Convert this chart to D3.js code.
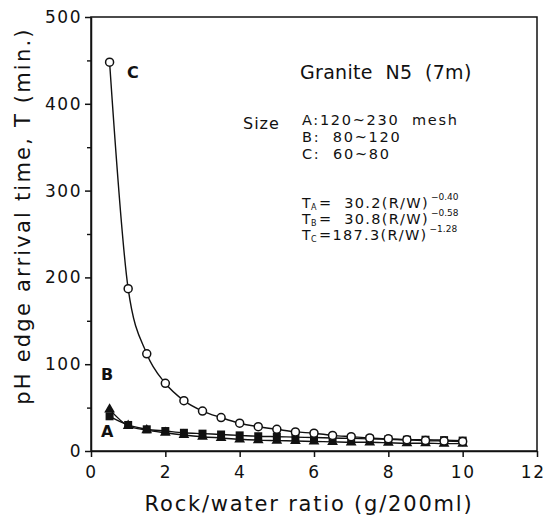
<!DOCTYPE html>
<html>
<head>
<meta charset="utf-8">
<script src="https://cdn.jsdelivr.net/npm/d3@7"></script>
<style>
  body { margin: 0; background: #fff; }
  svg { display: block; }
  text { font-family: "DejaVu Sans", "Liberation Sans", sans-serif; fill: #111; }
</style>
</head>
<body>
<svg id="chart" width="545" height="517"></svg>
<script>
// rock/water ratio (g/200ml)
const ratios = [0.5, 1, 1.5, 2, 2.5, 3, 3.5, 4, 4.5, 5, 5.5, 6, 6.5, 7, 7.5, 8, 8.5, 9, 9.5, 10];
// pH edge arrival time T (min.)
const seriesA = [40, 30, 25, 23, 21, 20, 19, 18, 17, 16.5, 16, 15.5, 15, 14.5, 14, 13.5, 13, 13, 12.5, 12];
const seriesB = [48, 29, 24, 21, 18.5, 16.5, 15, 13.5, 12.5, 12, 11.5, 11, 10.5, 10, 10, 9.5, 9, 9, 8.5, 8.5];
const seriesC = [448, 187, 112, 78, 58, 46, 38.5, 32, 28, 25, 22, 20.5, 18, 16.5, 15, 14, 13, 12, 11.5, 11];
const xTicks = [0, 2, 4, 6, 8, 10, 12];
const yTicks = [0, 100, 200, 300, 400, 500];
const legendLines = ['A:120~230  mesh', 'B:  80~120', 'C:  60~80'];
const equations = [
  { sub: 'A', text: '=  30.2(R/W)', exp: '\u22120.40' },
  { sub: 'B', text: '=  30.8(R/W)', exp: '\u22120.58' },
  { sub: 'C', text: '=187.3(R/W)', exp: '\u22121.28' }
];

const svg = d3.select('#chart');
const margin = { top: 17, right: 8, bottom: 66, left: 91 };
const width = 545, height = 517;

const x = d3.scaleLinear().domain([0, 12]).range([margin.left, width - margin.right]);
const y = d3.scaleLinear().domain([0, 500]).range([height - margin.bottom, margin.top]);

// frame
svg.append('rect')
  .attr('x', margin.left).attr('y', margin.top)
  .attr('width', width - margin.left - margin.right)
  .attr('height', height - margin.top - margin.bottom)
  .attr('fill', 'none').attr('stroke', '#111').attr('stroke-width', 1.5);

const xAxisG = svg.append('g')
  .attr('transform', `translate(0,${height - margin.bottom})`)
  .call(d3.axisBottom(x).tickValues(xTicks).tickSize(6).tickSizeOuter(0).tickFormat(d3.format('d')));

const yAxisG = svg.append('g')
  .attr('transform', `translate(${margin.left},0)`)
  .call(d3.axisLeft(y).tickValues(yTicks).tickSize(6).tickSizeOuter(0).tickFormat(d3.format('d')));

// minor y ticks
svg.append('g')
  .attr('transform', `translate(${margin.left},0)`)
  .call(d3.axisLeft(y).tickValues(d3.range(50, 500, 100)).tickSize(4).tickSizeOuter(0).tickFormat(''))
  .call(g => g.select('.domain').remove())
  .selectAll('.tick line').attr('stroke', '#111').attr('stroke-width', 1.4);

[xAxisG, yAxisG].forEach(g => {
  g.select('.domain').attr('stroke', '#111').attr('stroke-width', 1.5);
  g.selectAll('.tick line').attr('stroke', '#111').attr('stroke-width', 1.5);
  g.selectAll('.tick text').style('font-size', '17px').style('letter-spacing', '1.5px').attr('fill', '#111');
});
xAxisG.selectAll('.tick text').attr('dy', '0.71em').attr('y', 15);
xAxisG.selectAll('.tick').filter(d => d === 12).select('text')
  .attr('text-anchor', 'end').attr('x', 8);
yAxisG.selectAll('.tick text').attr('x', -9);

// axis titles
svg.append('text')
  .attr('x', 309).attr('y', 511)
  .attr('text-anchor', 'middle')
  .style('font-size', '21px').style('letter-spacing', '1.8px')
  .text('Rock/water ratio (g/200ml)');

svg.append('text')
  .attr('transform', 'translate(30,216) rotate(-90)')
  .attr('text-anchor', 'middle')
  .style('font-size', '21px').style('letter-spacing', '2.2px')
  .text('pH edge arrival time, T (min.)');

// series
const line = d3.line()
  .x(d => x(d[0]))
  .y(d => y(d[1]))
  .curve(d3.curveMonotoneX);

const zip = vals => ratios.map((r, i) => [r, vals[i]]);

[seriesA, seriesB, seriesC].forEach(vals => {
  svg.append('path')
    .datum(zip(vals))
    .attr('d', line)
    .attr('fill', 'none').attr('stroke', '#111').attr('stroke-width', 1.4);
});

// markers
svg.append('g').selectAll('rect')
  .data(zip(seriesA))
  .join('rect')
  .attr('x', d => x(d[0]) - 4).attr('y', d => y(d[1]) - 4)
  .attr('width', 8).attr('height', 8)
  .attr('fill', '#111');

svg.append('g').selectAll('path')
  .data(zip(seriesB))
  .join('path')
  .attr('transform', d => `translate(${x(d[0])},${y(d[1])})`)
  .attr('d', d3.symbol(d3.symbolTriangle, 50))
  .attr('fill', '#111');

svg.append('g').selectAll('circle')
  .data(zip(seriesC))
  .join('circle')
  .attr('cx', d => x(d[0])).attr('cy', d => y(d[1]))
  .attr('r', 4)
  .attr('fill', '#fff').attr('stroke', '#111').attr('stroke-width', 1.5);

// series labels
const labelStyle = sel => sel.style('font-size', '16px').style('font-weight', 'bold');
svg.append('text').attr('x', 127).attr('y', 78).text('C').call(labelStyle);
svg.append('text').attr('x', 101).attr('y', 380).text('B').call(labelStyle);
svg.append('text').attr('x', 101).attr('y', 437).text('A').call(labelStyle);

// annotations
svg.append('text').attr('x', 300).attr('y', 79)
  .style('font-size', '19px').style('letter-spacing', '0.3px')
  .attr('xml:space', 'preserve')
  .text('Granite  N5  (7m)');

svg.append('text').attr('x', 243).attr('y', 129)
  .style('font-size', '16px').style('letter-spacing', '1px')
  .text('Size');

svg.append('g').selectAll('text')
  .data(legendLines)
  .join('text')
  .attr('x', 302).attr('y', (d, i) => 125 + i * 16.8)
  .style('font-size', '14.5px').style('letter-spacing', '1.7px')
  .attr('xml:space', 'preserve')
  .text(d => d);

// power-law fits, drawn as separate pieces so the tight rows stay readable
const eqRows = svg.append('g').selectAll('g')
  .data(equations)
  .join('g')
  .attr('transform', (d, i) => `translate(302,${208 + i * 16})`);
eqRows.append('text').style('font-size', '14px').text('T');
eqRows.append('text').attr('x', 9).attr('y', 2).style('font-size', '8px').text(d => d.sub);
const eqMain = eqRows.append('text').attr('x', 17)
  .style('font-size', '14.5px').style('letter-spacing', '1.3px')
  .attr('xml:space', 'preserve')
  .text(d => d.text);
eqRows.append('text')
  .attr('x', (d, i) => 19 + eqMain.nodes()[i].getComputedTextLength())
  .attr('y', -8).style('font-size', '9px').text(d => d.exp);
</script>
</body>
</html>
